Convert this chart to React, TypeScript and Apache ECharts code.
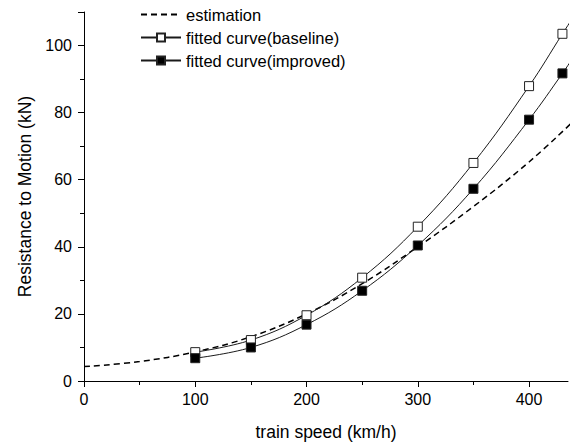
import React, { useEffect, useRef } from "react";
import * as echarts from "echarts";

// ---- data ----
const speeds = [100, 150, 200, 250, 300, 350, 400, 430];
const baseline = [8.6, 12.2, 19.6, 30.8, 46.0, 65.0, 87.9, 103.5];
const improved = [6.8, 10.0, 16.8, 26.9, 40.4, 57.3, 77.9, 91.7];
// curve continuation beyond the last marker (to the plot edge)
const curveEndSpeed = 440;
const baselineEnd = 108.6;
const improvedEnd = 96.6;

const estSpeeds = [0, 50, 100, 150, 200, 250, 300, 350, 400, 440];
const estimation = [4.3, 5.8, 8.7, 13.2, 20.0, 29.0, 40.0, 52.0, 65.3, 77.5];

const xTicks = [0, 100, 200, 300, 400];
const yTicks = [0, 20, 40, 60, 80, 100];
const yTickMarks = [0, 20, 40, 60, 80, 100, 110];

const seriesNames = ["estimation", "fitted curve(baseline)", "fitted curve(improved)"];

const FONT = "Liberation Sans, Arial, Helvetica, sans-serif";

export default function App() {
  const ref = useRef<HTMLDivElement>(null);

  useEffect(() => {
    if (!ref.current) return;
    const chart = echarts.init(ref.current, null, { renderer: "svg" });

    const fitData = (vals: number[], end: number) => [
      ...speeds.map((s, i) => [s, vals[i]]),
      { value: [curveEndSpeed, end], symbol: "none" },
    ];

    const axisCommon = {
      axisLine: { show: true, lineStyle: { color: "#000", width: 1 } },
      splitLine: { show: false },
      minorTick: { show: true, splitNumber: 2, length: 4, lineStyle: { color: "#000", width: 1 } },
    };

    chart.setOption({
      animation: false,
      backgroundColor: "#fff",
      grid: { left: 84, right: 2, top: 12, bottom: 66, containLabel: false },
      legend: {
        orient: "vertical",
        left: 140,
        top: 6,
        padding: 0,
        itemWidth: 40,
        itemHeight: 10,
        itemGap: 6,
        data: [
          { name: seriesNames[0], itemStyle: { opacity: 0 } },
          { name: seriesNames[1] },
          { name: seriesNames[2] },
        ],
        textStyle: { fontSize: 16.5, color: "#000", fontFamily: FONT },
      },
      xAxis: {
        type: "value",
        min: 0,
        max: 435,
        interval: 100,
        ...axisCommon,
        axisTick: {
          show: true,
          length: 6,
          customValues: xTicks,
          lineStyle: { color: "#000", width: 1 },
        },
        axisLabel: {
          customValues: xTicks,
          margin: 10,
          fontSize: 16,
          color: "#000",
          fontFamily: FONT,
        },
        name: "train speed (km/h)",
        nameLocation: "middle",
        nameGap: 42,
        nameTextStyle: { fontSize: 17.5, color: "#000", fontFamily: FONT },
      },
      yAxis: {
        type: "value",
        min: 0,
        max: 110,
        interval: 20,
        ...axisCommon,
        axisTick: {
          show: true,
          length: 6,
          customValues: yTickMarks,
          lineStyle: { color: "#000", width: 1 },
        },
        axisLabel: {
          customValues: yTicks,
          margin: 12,
          fontSize: 16,
          color: "#000",
          fontFamily: FONT,
        },
        name: "Resistance to Motion (kN)",
        nameLocation: "middle",
        nameGap: 50,
        nameTextStyle: { fontSize: 17.5, color: "#000", fontFamily: FONT },
      },
      series: [
        {
          name: seriesNames[0],
          type: "line",
          data: estSpeeds.map((s, i) => [s, estimation[i]]),
          smooth: 0.4,
          symbol: "none",
          showSymbol: false,
          lineStyle: { color: "#000", width: 1.5, type: [6, 4] },
          itemStyle: { color: "#000" },
          z: 2,
        },
        {
          name: seriesNames[1],
          type: "line",
          data: fitData(baseline, baselineEnd),
          smooth: 0.4,
          symbol: "rect",
          symbolSize: 9,
          lineStyle: { color: "#1a1a1a", width: 1 },
          itemStyle: { color: "#fff", borderColor: "#222", borderWidth: 1 },
          z: 3,
        },
        {
          name: seriesNames[2],
          type: "line",
          data: fitData(improved, improvedEnd),
          smooth: 0.4,
          symbol: "rect",
          symbolSize: 9,
          lineStyle: { color: "#1a1a1a", width: 1 },
          itemStyle: { color: "#000", borderColor: "#222", borderWidth: 1 },
          z: 3,
        },
      ],
    });

    return () => chart.dispose();
  }, []);

  return (
    <div
      ref={ref}
      style={{ position: "absolute", left: 0, top: 0, width: 570, height: 447 }}
    />
  );
}
